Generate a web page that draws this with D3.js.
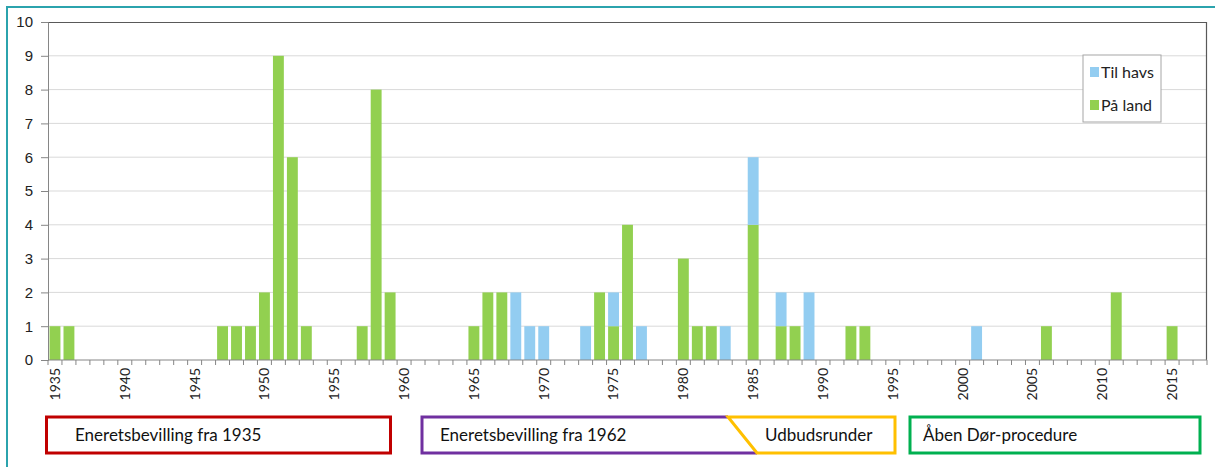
<!DOCTYPE html>
<html>
<head>
<meta charset="utf-8">
<script src="https://cdn.jsdelivr.net/npm/d3@7"></script>
<style>
  body { margin: 0; background: #fff; }
  svg { display: block; font-family: Lato, "Open Sans", sans-serif; }
</style>
</head>
<body>
<div id="chart"></div>
<script>
// years 1935..2017 with counts (only non-zero years listed)
const startYear = 1935, endYear = 2017;
const landYears  = [1935, 1936, 1947, 1948, 1949, 1950, 1951, 1952, 1953, 1957, 1958, 1959, 1965, 1966, 1967, 1974, 1975, 1976, 1980, 1981, 1982, 1985, 1987, 1988, 1992, 1993, 2006, 2011, 2015];
const landValues = [1, 1, 1, 1, 1, 2, 9, 6, 1, 1, 8, 2, 1, 2, 2, 2, 1, 4, 3, 1, 1, 4, 1, 1, 1, 1, 1, 2, 1];
const seaYears   = [1968, 1969, 1970, 1973, 1975, 1977, 1983, 1985, 1987, 1989, 2001];
const seaValues  = [2, 1, 1, 1, 1, 1, 1, 2, 1, 2, 1];
const yTicks = [0, 1, 2, 3, 4, 5, 6, 7, 8, 9, 10];
const legendLabels = ["Til havs", "På land"];
const periodLabels = ["Eneretsbevilling fra 1935", "Eneretsbevilling fra 1962", "Udbudsrunder", "Åben Dør-procedure"];

const width = 1215, height = 467,
    margin = { top: 22, right: 8, bottom: 107, left: 48 };

const years = d3.range(startYear, endYear + 1);
const data = years.map(y => {
    const li = landYears.indexOf(y), si = seaYears.indexOf(y);
    return { year: y, land: li >= 0 ? landValues[li] : 0, sea: si >= 0 ? seaValues[si] : 0 };
});

const colors = { land: "#92d050", sea: "#93cdf1" };

const xBand = d3.scaleBand()
    .domain(years)
    .range([margin.left, width - margin.right]);

const xScale = d3.scaleBand()
    .domain(years)
    .range([margin.left, width - margin.right])
    .paddingInner(0.22)
    .paddingOuter(0.11);

const yScale = d3.scaleLinear()
    .domain([0, 10])
    .range([height - margin.bottom, margin.top]);

const svg = d3.select("#chart").append("svg")
    .attr("width", width)
    .attr("height", height);

// outer frame
svg.append("rect")
    .attr("x", 7).attr("y", 7)
    .attr("width", width).attr("height", height)
    .attr("fill", "none")
    .attr("stroke", "#2ba3ad")
    .attr("stroke-width", 2);

// gridlines
svg.append("g")
    .selectAll("line")
    .data(yTicks.filter(d => d > 0 && d < 10))
    .enter().append("line")
    .attr("x1", margin.left).attr("x2", width - margin.right)
    .attr("y1", d => yScale(d)).attr("y2", d => yScale(d))
    .attr("stroke", "#d9d9d9");

// plot border (top and right)
svg.append("path")
    .attr("d", `M${margin.left},${yScale(10) + 0.5}H${width - margin.right - 0.5}V${yScale(0)}`)
    .attr("fill", "none")
    .attr("stroke", "#595959")
    .attr("stroke-width", 1.2);

// stacked bars
const stack = d3.stack().keys(["land", "sea"])(data);
svg.append("g")
    .selectAll("g")
    .data(stack)
    .enter().append("g")
    .attr("fill", d => colors[d.key])
    .selectAll("rect")
    .data(d => d.filter(p => p[1] > p[0]))
    .enter().append("rect")
    .attr("x", d => xScale(d.data.year))
    .attr("width", xScale.bandwidth())
    .attr("y", d => yScale(d[1]))
    .attr("height", d => yScale(d[0]) - yScale(d[1]));

// y axis
const yAxis = svg.append("g")
    .attr("transform", `translate(${margin.left},0)`)
    .call(d3.axisLeft(yScale).tickValues(yTicks).tickSize(7).tickPadding(8).tickFormat(d3.format("d")));
yAxis.selectAll("line, path").attr("stroke", "#868686");
yAxis.selectAll("text").style("font-size", "15px").attr("fill", "#222");

// x axis: ticks at band boundaries
const xAxis = svg.append("g")
    .attr("transform", `translate(0,${yScale(0)})`);
xAxis.append("line")
    .attr("x1", margin.left).attr("x2", width - margin.right)
    .attr("stroke", "#868686");
xAxis.selectAll(".tick")
    .data(years.concat([endYear + 1]))
    .enter().append("line")
    .attr("x1", d => d <= endYear ? xBand(d) : xBand(endYear) + xBand.bandwidth())
    .attr("x2", d => d <= endYear ? xBand(d) : xBand(endYear) + xBand.bandwidth())
    .attr("y1", 0).attr("y2", 5)
    .attr("stroke", "#868686");
xAxis.selectAll("text")
    .data(years.filter(y => y % 5 === 0))
    .enter().append("text")
    .attr("transform", d => `translate(${xBand(d) + xBand.bandwidth() / 2},8) rotate(-90)`)
    .attr("text-anchor", "end")
    .attr("dy", "0.35em")
    .style("font-size", "14px")
    .attr("fill", "#222")
    .text(d => d);

// legend
const legend = svg.append("g").attr("transform", "translate(1083,55)");
legend.append("rect")
    .attr("width", 78).attr("height", 67)
    .attr("fill", "#fff")
    .attr("stroke", "#a6a6a6");
legendLabels.forEach((label, i) => {
    const ly = 17 + i * 33;
    legend.append("rect")
        .attr("x", 7).attr("y", ly - 5)
        .attr("width", 9).attr("height", 10)
        .attr("fill", i === 0 ? colors.sea : colors.land);
    legend.append("text")
        .attr("x", 18).attr("y", ly)
        .attr("dy", "0.35em")
        .style("font-size", "16px")
        .attr("fill", "#222")
        .text(label);
});

// period boxes
const boxTop = 417, boxBottom = 453;
const periods = svg.append("g").attr("stroke-width", 3).attr("fill", "none");
periods.append("rect")
    .attr("x", 46.5).attr("y", boxTop)
    .attr("width", 344).attr("height", boxBottom - boxTop)
    .attr("stroke", "#c00000");
periods.append("path")
    .attr("d", `M728,${boxTop}H422V${boxBottom}H757`)
    .attr("stroke", "#7030a0");
periods.append("path")
    .attr("d", `M728,${boxTop}H895V${boxBottom}H757Z`)
    .attr("stroke", "#ffc000");
periods.append("rect")
    .attr("x", 910).attr("y", boxTop)
    .attr("width", 290).attr("height", boxBottom - boxTop)
    .attr("stroke", "#00b050");

const periodX = [75, 440, 765, 923];
svg.append("g")
    .selectAll("text")
    .data(periodLabels)
    .enter().append("text")
    .attr("x", (d, i) => periodX[i])
    .attr("y", (boxTop + boxBottom) / 2)
    .attr("dy", "0.35em")
    .style("font-size", "17px")
    .attr("fill", "#111")
    .text(d => d);
</script>
</body>
</html>
